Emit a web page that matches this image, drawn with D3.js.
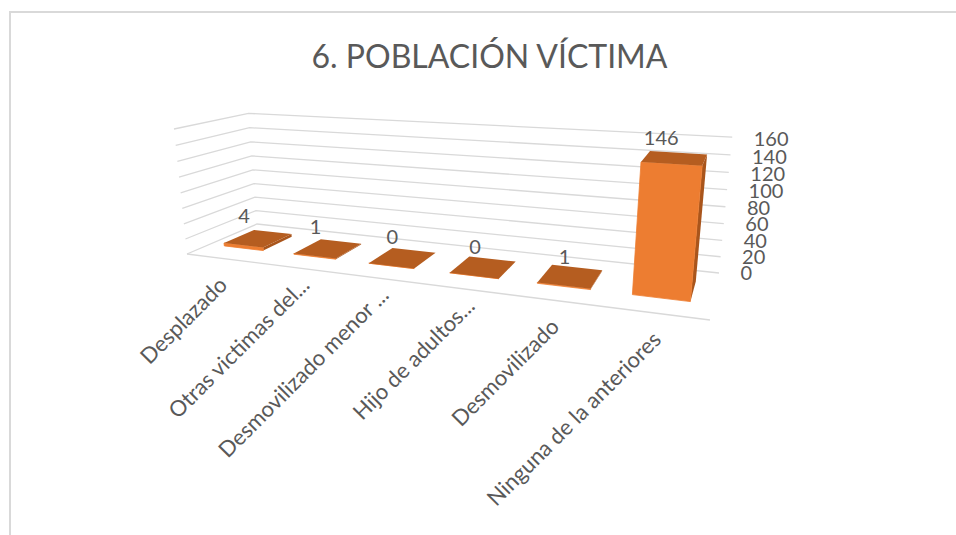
<!DOCTYPE html>
<html><head><meta charset="utf-8">
<script src="https://cdn.jsdelivr.net/npm/d3@7"></script>
<style>html,body{margin:0;background:#fff}svg{display:block}text{font-family:Lato,"Open Sans",sans-serif;fill:#595959}</style>
</head><body><svg width="956" height="535"></svg>
<script>
const categories=["Desplazado","Otras victimas del...","Desmovilizado menor ...","Hijo de adultos...","Desmovilizado","Ninguna de la anteriores"];
const values=[4,1,0,0,1,146];
const ticks=[0,20,40,60,80,100,120,140,160];
const title="6. POBLACIÓN VÍCTIMA";

const svg=d3.select("svg");
svg.append("path").attr("d","M10,535V12H956").attr("fill","none").attr("stroke","#d9d9d9").attr("stroke-width",2);
svg.append("text").attr("x",489.5).attr("y",68).attr("text-anchor","middle").attr("font-size",32).text(title);

// 3D projective map fitted to the floor corners and the top-front-left corner
const floor=[[187,254],[710,320],[719,273],[257,224]];
const topFrontLeft=[174,129], k=-0.045;
function camera(q,t,k){
  const [[x0,y0],[x1,y1],[x2,y2],[x3,y3]]=q;
  const dx1=x1-x2,dx2=x3-x2,dx3=x0-x1+x2-x3,dy1=y1-y2,dy2=y3-y2,dy3=y0-y1+y2-y3;
  const det=dx1*dy2-dx2*dy1;
  const g=(dx3*dy2-dx2*dy3)/det,h=(dx1*dy3-dx3*dy1)/det;
  const a=x1-x0+g*x1,b=x3-x0+h*x3,d=y1-y0+g*y1,e=y3-y0+h*y3;
  const c=(1+k)*t[0]-x0,f=(1+k)*t[1]-y0;
  return (u,v,z)=>{const w=g*u+h*v+k*z+1;return [(a*u+b*v+c*z+x0)/w,(d*u+e*v+f*z+y0)/w];};
}
const cam=camera(floor,topFrontLeft,k);
const y=d3.scaleLinear().domain([0,160]).range([0,1]);
const xb=d3.scaleBand().domain(categories).range([0,1]).paddingInner(.43).paddingOuter(.215);
const dep=d3.scaleLinear().domain([0,1]).range([0.3,0.74]);
const P=(u,d,v)=>cam(u,d,y(v));
const poly=p=>"M"+p.map(q=>q.map(n=>n.toFixed(1)).join(",")).join("L")+"Z";

const grid=svg.append("g").attr("fill","none").attr("stroke","#d9d9d9").attr("stroke-width",1.3);
ticks.forEach(t=>{
  grid.append("path").attr("d",d3.line()([P(0,0,t),P(0,1,t),P(1,1,t)]));
});
grid.append("path").attr("d",d3.line()([P(0,0,0),P(1,0,0)]));

const front="#ED7D31",topc="#B55D20",side="#A9551C";
categories.forEach((c,i)=>{
  const u0=xb(c),u1=u0+xb.bandwidth(),d0=dep(0),d1=dep(1),v=values[i];
  const g=svg.append("g");
  g.append("path").attr("d",poly([P(u1,d0,0),P(u1,d1,0),P(u1,d1,v),P(u1,d0,v)])).attr("fill",side);
  g.append("path").attr("d",poly([P(u0,d0,0),P(u1,d0,0),P(u1,d0,v),P(u0,d0,v)])).attr("fill",front).attr("stroke",front).attr("stroke-width",.8);
  g.append("path").attr("d",poly([P(u0,d0,v),P(u1,d0,v),P(u1,d1,v),P(u0,d1,v)])).attr("fill",topc);
  const q=P((u0+u1)/2,d0,v);
  svg.append("text").attr("x",q[0]+1-12*y(v)).attr("y",q[1]-22+3.3*y(v)).attr("text-anchor","middle").attr("font-size",20).text(v);
  const l=P((u0+u1)/2,0,0);
  const cut=c.endsWith("...")?9:0; // truncated labels sit nearer their slot
  svg.append("text").attr("transform",`translate(${l[0]+7+cut},${l[1]+28-cut}) rotate(-45)`).attr("text-anchor","end").attr("font-size",22).text(c);
});
ticks.forEach(t=>{
  const q=P(1,1,t);
  svg.append("text").attr("x",q[0]+21.5).attr("y",q[1]+7+2*y(t)).attr("font-size",20).text(t);
});
</script></body></html>
